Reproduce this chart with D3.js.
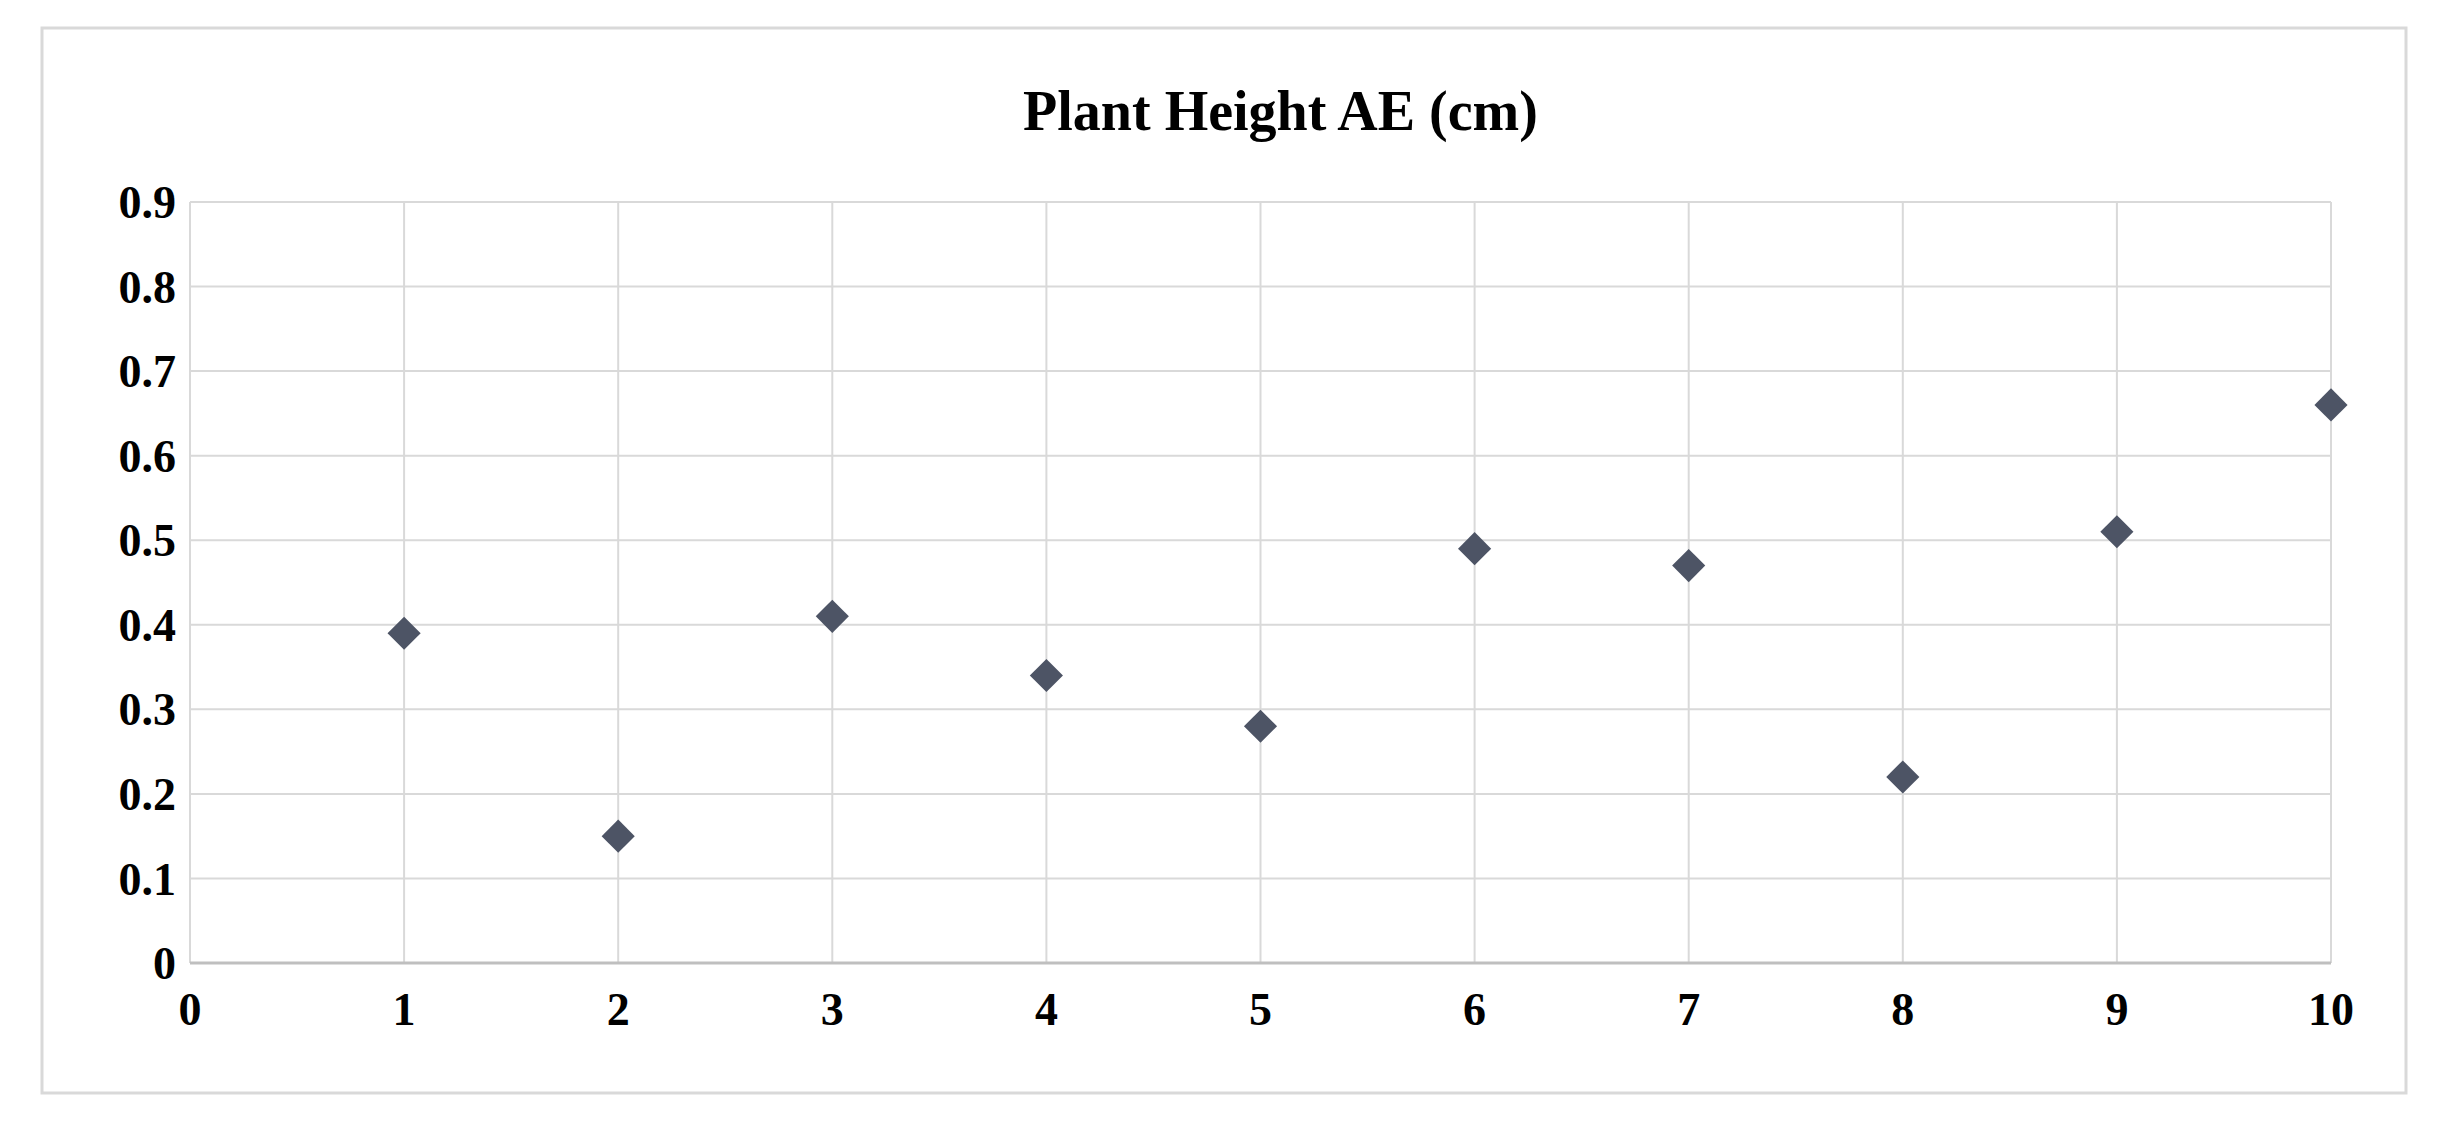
<!DOCTYPE html>
<html><head><meta charset="utf-8">
<script src="https://cdn.jsdelivr.net/npm/d3@7"></script>
<style>body{margin:0;background:#fff}</style>
</head><body><svg id="c"></svg>
<script>
const xs = [1, 2, 3, 4, 5, 6, 7, 8, 9, 10];
const values = [0.39, 0.15, 0.41, 0.34, 0.28, 0.49, 0.47, 0.22, 0.51, 0.66];
const xTicks = [0, 1, 2, 3, 4, 5, 6, 7, 8, 9, 10];
const yTicks = [0, 0.1, 0.2, 0.3, 0.4, 0.5, 0.6, 0.7, 0.8, 0.9];

const W = 2437, H = 1132;
const m = { left: 190, right: 2331, top: 202, bottom: 963 };
const svg = d3.select('#c').attr('width', W).attr('height', H);
const font = '"Liberation Serif", "Times New Roman", serif';

// outer frame
svg.append('rect').attr('x', 42).attr('y', 28).attr('width', 2364).attr('height', 1065)
  .attr('fill', '#fff').attr('stroke', '#d9d9d9').attr('stroke-width', 3);

const x = d3.scaleLinear().domain([0, 10]).range([m.left, m.right]);
const y = d3.scaleLinear().domain([0, 0.9]).range([m.bottom, m.top]);

// grid
svg.append('g').selectAll('line').data(yTicks).join('line')
  .attr('x1', m.left).attr('x2', m.right).attr('y1', d => y(d)).attr('y2', d => y(d))
  .attr('stroke', '#d9d9d9').attr('stroke-width', 2);
svg.append('g').selectAll('line').data(xTicks).join('line')
  .attr('y1', m.top).attr('y2', m.bottom).attr('x1', d => x(d)).attr('x2', d => x(d))
  .attr('stroke', '#d9d9d9').attr('stroke-width', 2);
svg.append('line').attr('x1', m.left).attr('x2', m.right).attr('y1', y(0)).attr('y2', y(0))
  .attr('stroke', '#bfbfbf').attr('stroke-width', 3);

// axis labels
svg.append('g').selectAll('text').data(yTicks).join('text')
  .attr('x', m.left - 14).attr('y', d => y(d)).attr('dy', '0.35em')
  .attr('text-anchor', 'end').attr('font-family', font).attr('font-weight', 'bold')
  .attr('font-size', 46).text(d => d === 0 ? '0' : d.toFixed(1));
svg.append('g').selectAll('text').data(xTicks).join('text')
  .attr('x', d => x(d)).attr('y', m.bottom + 46).attr('dy', '0.35em')
  .attr('text-anchor', 'middle').attr('font-family', font).attr('font-weight', 'bold')
  .attr('font-size', 46).text(d => d);

// title
svg.append('text').attr('x', (m.left + m.right) / 2 + 20).attr('y', 110).attr('dy', '0.35em')
  .attr('text-anchor', 'middle').attr('font-family', font).attr('font-weight', 'bold')
  .attr('font-size', 56).text('Plant Height AE (cm)');

// points
const diamond = d3.symbol().type(d3.symbolDiamond2).size(700);
svg.append('g').selectAll('path').data(xs).join('path')
  .attr('transform', (d, i) => `translate(${x(d)},${y(values[i])})`)
  .attr('d', diamond).attr('fill', '#4d5465');
</script></body></html>
